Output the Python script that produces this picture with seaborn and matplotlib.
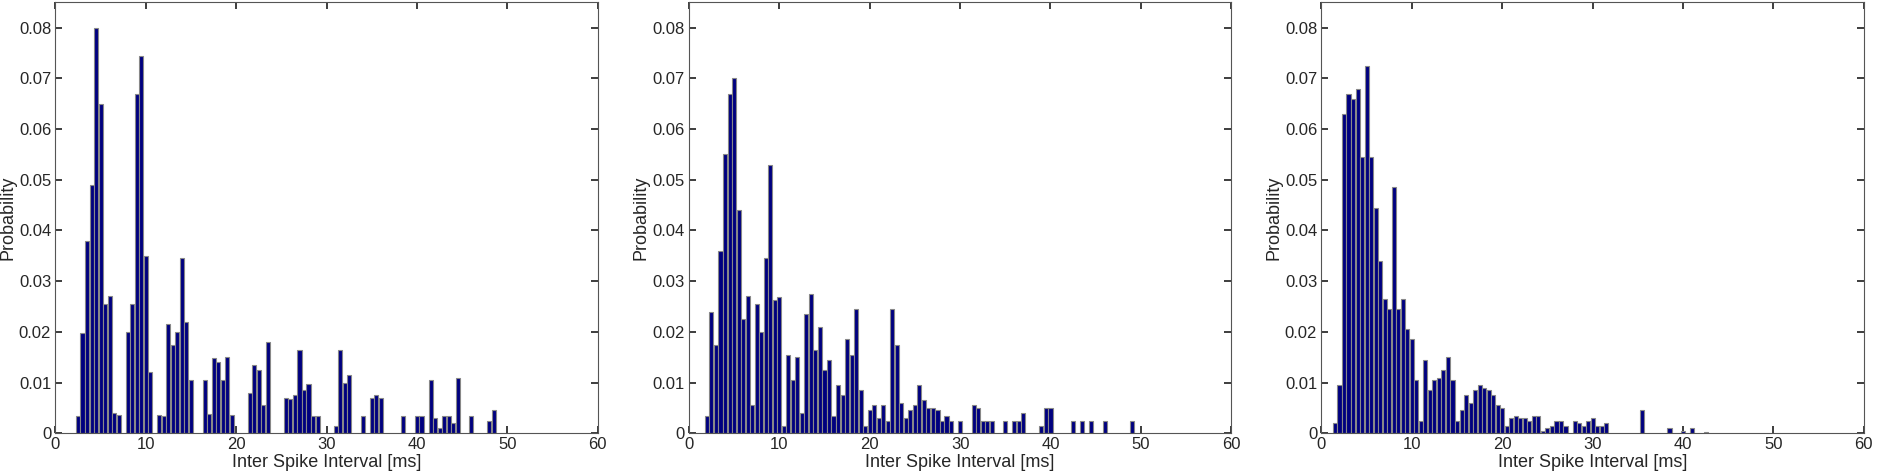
import numpy as np
import pandas as pd
import matplotlib
matplotlib.use("Agg")
import matplotlib.pyplot as plt
import seaborn as sns

sns.set_theme(style="white")
plt.rcParams['font.family'] = ['Liberation Sans', 'DejaVu Sans']

# Panel 1 histogram (bin centers in ms, probabilities)
isi_1 = [2.5, 3, 3.5, 4, 4.5, 5, 5.5, 6, 6.5, 7,
         8, 8.5, 9, 9.5, 10, 10.5, 11.5, 12, 12.5, 13, 13.5, 14, 14.5, 15,
         16.5, 17, 17.5, 18, 18.5, 19, 19.5, 21.5, 22, 22.5, 23, 23.5,
         25.5, 26, 26.5, 27, 27.5, 28, 28.5, 29, 31, 31.5, 32, 32.5, 34,
         35, 35.5, 36, 38.5, 40, 40.5, 41.5, 42, 42.5, 43, 43.5, 44, 44.5,
         46, 48, 48.5]
prob_1 = [0.0035, 0.0197, 0.038, 0.049, 0.080, 0.065, 0.0255, 0.027, 0.004, 0.0037,
          0.020, 0.0255, 0.067, 0.0745, 0.035, 0.012, 0.0037, 0.0035, 0.0215, 0.0175, 0.020, 0.0345, 0.022, 0.0105,
          0.0105, 0.0038, 0.0148, 0.014, 0.0105, 0.015, 0.0037, 0.008, 0.0135, 0.0125, 0.0055, 0.018,
          0.007, 0.0068, 0.0075, 0.0165, 0.0085, 0.0098, 0.0035, 0.0035, 0.0015, 0.0165, 0.010, 0.0115, 0.0035,
          0.007, 0.0075, 0.007, 0.0035, 0.0035, 0.0035, 0.0105, 0.003, 0.001, 0.0035, 0.0035, 0.002, 0.011,
          0.0035, 0.0025, 0.0045]

# Panel 2
isi_2 = [2, 2.5, 3, 3.5, 4, 4.5, 5, 5.5, 6, 6.5, 7, 7.5, 8, 8.5, 9, 9.5, 10,
         10.5, 11, 11.5, 12, 12.5, 13, 13.5, 14, 14.5, 15, 15.5, 16, 16.5, 17,
         17.5, 18, 18.5, 19, 19.5, 20, 20.5, 21, 21.5, 22, 22.5, 23, 23.5, 24,
         24.5, 25, 25.5, 26, 26.5, 27, 27.5, 28, 28.5, 29, 30, 31.5, 32, 32.5,
         33, 33.5, 35, 36, 36.5, 37, 39, 39.5, 40, 42.5, 43.5, 44.5, 46, 49]
prob_2 = [0.0035, 0.024, 0.0175, 0.036, 0.055, 0.067, 0.070, 0.044, 0.0225, 0.027, 0.0055, 0.0255, 0.020, 0.0345, 0.053, 0.0262, 0.0268,
          0.0015, 0.0155, 0.0105, 0.015, 0.004, 0.0235, 0.0275, 0.0165, 0.021, 0.0125, 0.0145, 0.0035, 0.0095, 0.0075,
          0.0185, 0.0155, 0.0245, 0.0085, 0.0015, 0.0045, 0.0055, 0.003, 0.0055, 0.0025, 0.0245, 0.0175, 0.006, 0.003,
          0.0045, 0.0055, 0.0095, 0.0065, 0.005, 0.005, 0.0045, 0.0025, 0.0035, 0.0025, 0.0025, 0.0055, 0.005, 0.0025,
          0.0025, 0.0025, 0.0025, 0.0025, 0.0025, 0.004, 0.0015, 0.005, 0.005, 0.0025, 0.0025, 0.0025, 0.0025, 0.0025]

# Panel 3
isi_3 = [1.5, 2, 2.5, 3, 3.5, 4, 4.5, 5, 5.5, 6, 6.5, 7, 7.5, 8, 8.5, 9, 9.5, 10,
         10.5, 11, 11.5, 12, 12.5, 13, 13.5, 14, 14.5, 15, 15.5, 16, 16.5, 17,
         17.5, 18, 18.5, 19, 19.5, 20, 20.5, 21, 21.5, 22, 22.5, 23, 23.5, 24,
         24.5, 25, 25.5, 26, 26.5, 27, 28, 28.5, 29, 29.5, 30, 30.5, 31, 31.5,
         35.5, 38.5, 40, 41, 42.5]
prob_3 = [0.002, 0.0095, 0.063, 0.067, 0.066, 0.068, 0.0545, 0.0725, 0.0545, 0.0445, 0.034, 0.0265, 0.0245, 0.0485, 0.0245, 0.0265, 0.0205, 0.0185,
          0.0105, 0.0025, 0.0145, 0.0085, 0.0105, 0.011, 0.0125, 0.015, 0.0105, 0.0025, 0.0045, 0.0075, 0.006, 0.0085,
          0.0095, 0.009, 0.0085, 0.0075, 0.0055, 0.005, 0.0015, 0.003, 0.0035, 0.003, 0.003, 0.0025, 0.0035, 0.0035,
          0.0005, 0.001, 0.0015, 0.0025, 0.0025, 0.0015, 0.0025, 0.002, 0.0015, 0.0025, 0.003, 0.0015, 0.0015, 0.002,
          0.0045, 0.001, 0.0005, 0.001, 0.0002]

panels = [(isi_1, prob_1), (isi_2, prob_2), (isi_3, prob_3)]
lefts = [0.0295, 0.367, 0.704]

fig = plt.figure(figsize=(18.77, 4.73), dpi=100)
for left, (x, y) in zip(lefts, panels):
    ax = fig.add_axes([left, 0.084, 0.289, 0.911])
    df = pd.DataFrame({'isi': x, 'prob': y})
    sns.barplot(data=df, x='isi', y='prob', native_scale=True, width=0.9,
                color='#00007f', edgecolor='#888888', linewidth=0.8,
                saturation=1, ax=ax)
    ax.set_xlim(0, 60)
    ax.set_ylim(0, 0.085)
    ax.set_xticks(np.arange(0, 61, 10))
    ax.set_yticks(np.arange(0, 0.081, 0.01))
    ax.set_yticklabels(['0'] + [f'{v:.2f}' for v in np.arange(0.01, 0.081, 0.01)])
    ax.set_xlabel('Inter Spike Interval [ms]', fontsize=13, labelpad=1)
    ax.set_ylabel('Probability', fontsize=13, labelpad=2)
    ax.tick_params(axis='both', direction='in', length=5, labelsize=12,
                   top=True, right=True, bottom=True, left=True, pad=3)
    for s in ax.spines.values():
        s.set_color('#555555')
        s.set_linewidth(0.8)
    ax.set_facecolor('white')

fig.savefig('out.png', dpi=100)
